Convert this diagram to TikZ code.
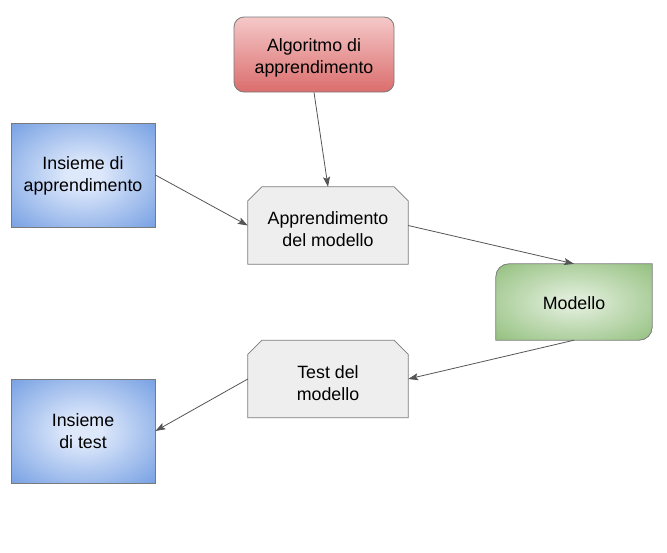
\documentclass[tikz,border=0pt]{standalone}
\usepackage{fontspec}
\setmainfont{Liberation Sans}
\usetikzlibrary{arrows.meta}
\definecolor{edgegray}{HTML}{7A7A7A}
\definecolor{linegray}{HTML}{555555}
\definecolor{redtop}{HTML}{F5C8C8}
\definecolor{redbot}{HTML}{DB6D6D}
\definecolor{bluein}{HTML}{DDE8FB}
\definecolor{blueout}{HTML}{7CA4E4}
\definecolor{greenin}{HTML}{DCEBD5}
\definecolor{greenout}{HTML}{97C283}
\definecolor{boxgray}{HTML}{EEEEEE}
\pgfdeclareradialshading{softblue}{\pgfpoint{0bp}{0bp}}{color(0bp)=(bluein); color(6bp)=(bluein); color(34bp)=(blueout); color(50bp)=(blueout)}
\pgfdeclareradialshading{softgreen}{\pgfpoint{0bp}{0bp}}{color(0bp)=(greenin); color(5bp)=(greenin); color(34bp)=(greenout); color(50bp)=(greenout)}
\begin{document}
\begin{tikzpicture}[x=1pt,y=1pt,
  lbl/.style={font=\fontsize{17.8}{22}\selectfont, align=center, text=black, inner sep=0pt},
  bluebox/.style={draw=edgegray, line width=0.8pt, shading=softblue, minimum width=144pt, minimum height=104pt, inner sep=0pt},
  grayframe/.style={minimum width=160pt, minimum height=77pt, inner sep=0pt},
  conn/.style={draw=linegray, line width=0.8pt, -{Stealth[length=10pt,width=7pt,inset=2pt]}}
]
\useasboundingbox (0,0) rectangle (667,-552);

\node[draw=edgegray, line width=0.8pt, rounded corners=10pt, top color=redtop, bottom color=redbot, minimum width=160pt, minimum height=75pt, inner sep=0pt] (alg) at (314,-54.5) {};
\node[lbl, yshift=-3.5pt] (algt) at (alg) {Algoritmo di\\apprendimento};

\node[bluebox] (ins) at (83,-175) {};
\node[lbl, yshift=-1pt] (inst) at (ins) {Insieme di\\apprendimento};
\node[bluebox] (ist) at (83,-431) {};
\node[lbl, yshift=-0.5pt] (istt) at (ist) {Insieme\\di test};

\node[grayframe] (app) at (328,-225.5) {};
\node[grayframe] (tst) at (328,-379) {};
\foreach \n in {app,tst}{
  \filldraw[draw=edgegray, fill=boxgray, line width=0.8pt]
    (\n.south west) -- ([yshift=-14pt]\n.north west) -- ([xshift=14pt]\n.north west)
    -- ([xshift=-14pt]\n.north east) -- ([yshift=-14pt]\n.north east) -- (\n.south east) -- cycle;
}
\node[lbl, yshift=-3.5pt] (appt) at (app) {Apprendimento\\del modello};
\node[lbl, yshift=-4pt] (tstt) at (tst) {Test del\\modello};

\node[minimum width=156pt, minimum height=76pt, inner sep=0pt] (mod) at (574,-302) {};
\shadedraw[draw=edgegray, line width=0.8pt, shading=softgreen]
  (mod.south west) -- ([yshift=-13pt]mod.north west) arc[start angle=180, end angle=90, radius=13pt]
  -- (mod.north east) -- ([yshift=13pt]mod.south east) arc[start angle=0, end angle=-90, radius=13pt] -- cycle;
\node[lbl, yshift=-1pt] (modt) at (mod) {Modello};

\draw[conn] (alg.south) -- (app.north);
\draw[conn] (ins.east) -- (app.west);
\draw[conn] (app.east) -- (mod.north);
\draw[conn] (mod.south) -- (tst.east);
\draw[conn] (tst.west) -- (ist.east);
\end{tikzpicture}
\end{document}
